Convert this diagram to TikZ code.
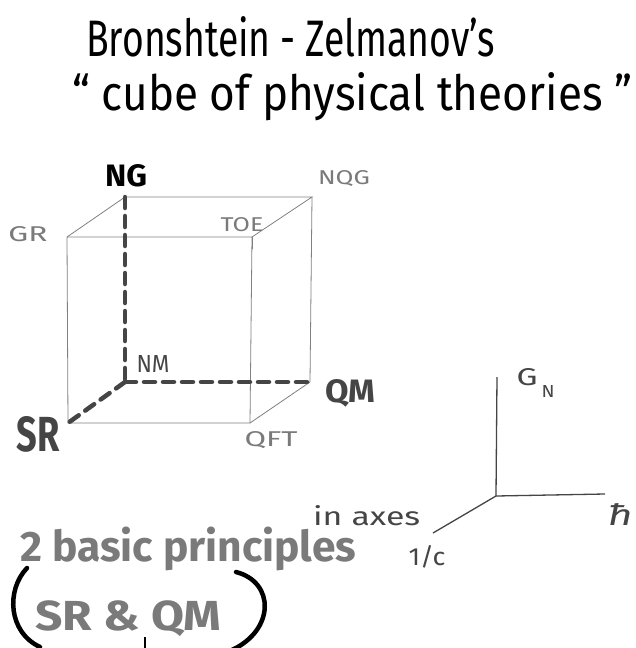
\documentclass[tikz,border=0pt]{standalone}
\usepackage{fontspec}
\setmainfont{Fira Sans}
\usetikzlibrary{calc}
\definecolor{lgrey}{HTML}{808080}
\definecolor{mgrey}{HTML}{7A7A7A}
\definecolor{dgrey}{HTML}{454545}
\newcommand{\fitbox}[3]{\resizebox{#1pt}{#2pt}{#3}}
\begin{document}
\begin{tikzpicture}[x=1pt,y=-1pt,
  edge/.style={draw=lgrey,line width=0.8pt},
  thickdash/.style={draw=dgrey,line width=4.5pt,line cap=round,dash pattern=on 11pt off 8pt},
  axis/.style={draw=dgrey,line width=1.3pt},
  lbl/.style={inner sep=0pt,text=mgrey,font=\fontsize{20}{22}\selectfont},
  boldlbl/.style={inner sep=0pt,font=\fontsize{30}{32}\selectfont\bfseries},
  title/.style={inner sep=0pt,anchor=base west,text=black,font=\fontsize{36}{40}\selectfont}]
\useasboundingbox (0,0) rectangle (636,648);
\fill[white] (0,0) rectangle (636,648);
% title
\node[title] (t1) at (86,56) {\resizebox{409pt}{40pt}{Bronshtein - Zelmanov's}};
\node[title] (t2) at (72,110) {\resizebox{560pt}{38pt}{“ cube of physical theories ”}};
% cube corners
\coordinate (gr) at (67,237);
\coordinate (toe) at (252,237);
\coordinate (sr) at (68,423);
\coordinate (qft) at (250,423);
\coordinate (ng) at (125,197);
\coordinate (nqg) at (312,197);
\coordinate (nm) at (125,382);
\coordinate (qm) at (310,382);
% thin edges
\draw[edge] (gr) -- (toe) -- (qft) -- (sr) -- (gr);
\draw[edge] (gr) -- (ng) -- (nqg) -- (toe);
\draw[edge] (nqg) -- (qm) -- (qft);
\draw[edge] (toe) -- ++(0,12);
% thick dashed edges
\draw[thickdash] (ng) -- (nm);
\draw[thickdash] (nm) -- (qm);
\draw[thickdash] (nm) -- (sr);
% labels
\node[boldlbl,text=black] (lng) at (126,176) {\fitbox{42}{22}{NG}};
\node[lbl] (lnqg) at (344,179) {\fitbox{52}{14}{NQG}};
\node[lbl] (lgr) at (28,234) {\fitbox{39}{15}{GR}};
\node[lbl] (ltoe) at (242,225) {\fitbox{43}{14}{TOE}};
\node[lbl,text=dgrey] (lnm) at (153,364) {\fitbox{33}{17}{NM}};
\node[boldlbl,text=dgrey] (lqm) at (350,393) {\fitbox{50}{23}{QM}};
\node[boldlbl,text=dgrey] (lsr) at (38,434) {\fitbox{43}{35}{SR}};
\node[lbl] (lqft) at (271,440) {\fitbox{53}{15}{QFT}};
% axes
\coordinate (o) at (496,496);
\coordinate (az) at (497,377);
\coordinate (ax) at (605,494);
\coordinate (ay) at (433,533);
\draw[axis] (o) -- (az);
\draw[axis] (o) -- (ax);
\draw[axis] (o) -- (ay);
\node[lbl,text=dgrey] (lg) at (527,377) {\fitbox{21}{17}{G}};
\node[lbl,text=dgrey] (lgn) at (548,391) {\fitbox{13}{12}{N}};
\node[lbl,text=dgrey,font=\fontsize{28}{30}\selectfont\itshape] (lh) at (620,514) {\fitbox{25}{22}{ħ}};
\node[lbl,text=dgrey] (lc) at (427,557) {\fitbox{37}{20}{1/c}};
\node[lbl,text=dgrey,anchor=base west] (lin) at (313,525) {\fitbox{107}{20}{in axes}};
% principles
\node[inner sep=0pt,anchor=west,text=mgrey,font=\fontsize{40}{44}\selectfont\bfseries] (bp) at (20,549) {\resizebox{336pt}{!}{2 basic principles}};
\node[inner sep=0pt,anchor=west,text=mgrey,font=\fontsize{42}{44}\selectfont\bfseries] (sq) at (35,619) {\scalebox{1.14}[1]{SR \& QM}};
\draw[black,line width=4.5pt,line cap=round] (27,568) .. controls (6,590) and (8,632) .. (40,647);
\draw[black,line width=4.5pt,line cap=round] (236,572) .. controls (275,582) and (275,630) .. (232,650);
\draw[black,line width=1.2pt] (145,637) -- (145,648);
\end{tikzpicture}
\end{document}
